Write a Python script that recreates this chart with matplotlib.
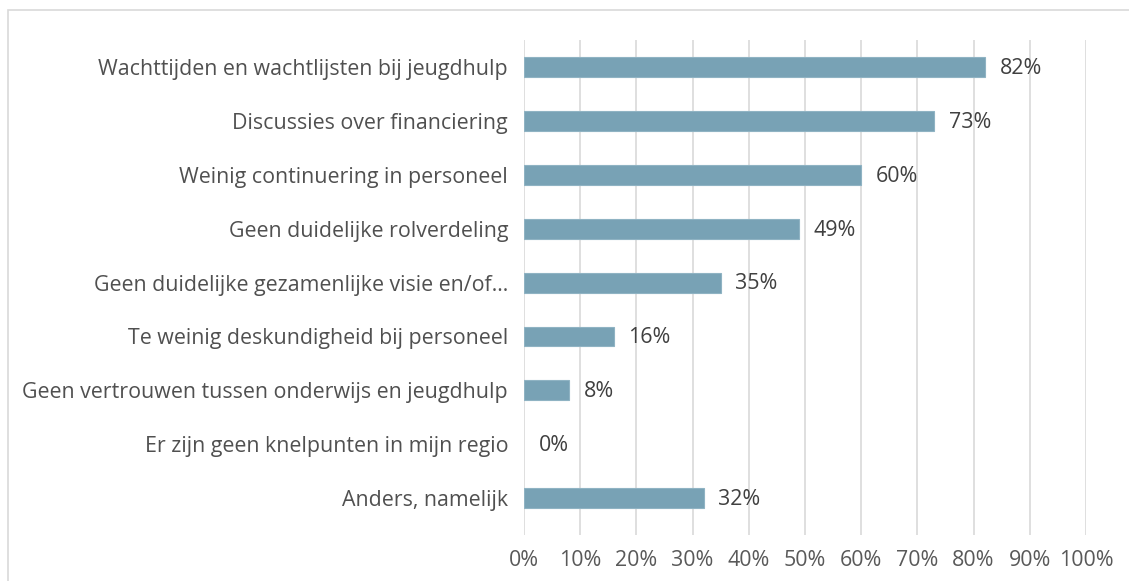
import matplotlib
matplotlib.use("Agg")
import matplotlib.pyplot as plt
from matplotlib.patches import Rectangle
from matplotlib.textpath import TextPath
from matplotlib.font_manager import FontProperties

categories = [
    "Wachttijden en wachtlijsten bij jeugdhulp",
    "Discussies over financiering",
    "Weinig continuering in personeel",
    "Geen duidelijke rolverdeling",
    "Geen duidelijke gezamenlijke visie en/of…",
    "Te weinig deskundigheid bij personeel",
    "Geen vertrouwen tussen onderwijs en jeugdhulp",
    "Er zijn geen knelpunten in mijn regio",
    "Anders, namelijk",
]
values = [82, 73, 60, 49, 35, 16, 8, 0, 32]
xticks = [0, 10, 20, 30, 40, 50, 60, 70, 80, 90, 100]
xtick_labels = ["0%", "10%", "20%", "30%", "40%", "50%", "60%", "70%", "80%", "90%", "100%"]

FONT = ['Open Sans', 'DejaVu Sans']
plt.rcParams['font.family'] = FONT

# choose font size so the longest label is ~482 px wide
fp = FontProperties(family=FONT[0], size=10)
w10 = TextPath((0, 0), "Geen vertrouwen tussen onderwijs en jeugdhulp", prop=fp).get_extents().width
fs = 10 * (482 * 0.72) / w10

W, H = 1129, 581
fig = plt.figure(figsize=(W / 100, H / 100), dpi=100)

fig.patches.append(Rectangle((8 / W, -0.1), 2, (H - 10) / H + 0.1, transform=fig.transFigure,
                             fill=False, edgecolor="#d9d9d9", linewidth=1.2))

left, right = 524, 1086
top, bottom = 40, 535
ax = fig.add_axes([left / W, 1 - bottom / H, (right - left) / W, (bottom - top) / H])

ypos = list(range(len(categories)))
lws = [0.8 if v > 0 else 0 for v in values]
ax.barh(ypos, values, height=0.37, color="#78a2b5", edgecolor="#8fb3c3", linewidth=lws, zorder=3)
ax.set_xlim(0, 100)
ax.set_ylim((bottom - 67) / 53.9, -0.5)
ax.set_xticks(xticks)
ax.set_xticklabels(xtick_labels, fontsize=fs, color="#595959")
ax.set_yticks(ypos)
ax.set_yticklabels(categories, fontsize=fs, color="#505050")
ax.tick_params(axis="both", length=0)
ax.tick_params(axis="x", pad=11)
ax.tick_params(axis="y", pad=11.5)
ax.grid(axis="x", color="#d9d9d9", linewidth=1.2, zorder=0)
for s in ax.spines.values():
    s.set_visible(False)

for y, v in zip(ypos, values):
    ax.annotate(f"{v}%", (v, y), xytext=(10.5, -1), textcoords="offset points",
                va="center", ha="left", fontsize=fs, color="#404040")

fig.savefig("out.png", dpi=100)
